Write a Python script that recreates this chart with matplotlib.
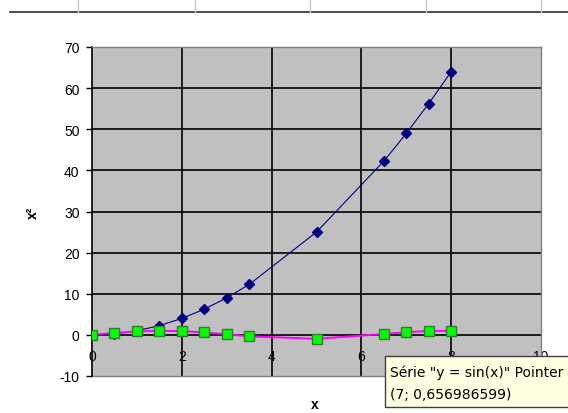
import matplotlib
matplotlib.use("Agg")
import matplotlib.pyplot as plt
from matplotlib.lines import Line2D
from matplotlib.patches import Rectangle

plt.rcParams['font.family'] = ['Liberation Sans', 'DejaVu Sans']

x_vals = [0, 0.5, 1, 1.5, 2, 2.5, 3, 3.5, 5, 6.5, 7, 7.5, 8]
y_square = [0, 0.25, 1, 2.25, 4, 6.25, 9, 12.25, 25, 42.25, 49, 56.25, 64]
y_sin = [0, 0.479, 0.841, 0.997, 0.909, 0.598, 0.141, -0.351, -0.959, 0.215, 0.657, 0.938, 0.989]
x_ticks = [0, 2, 4, 6, 8, 10]
y_ticks = [-10, 0, 10, 20, 30, 40, 50, 60, 70]
tooltip_lines = ['Série "y = sin(x)" Pointer', '(7; 0,656986599)']

W, H = 568, 414
fig = plt.figure(figsize=(W / 100, H / 100), dpi=100)
fig.patch.set_facecolor('white')

L, R, T, B = 92, 541, 48, 377
ax = fig.add_axes([L / W, 1 - B / H, (R - L) / W, (B - T) / H])
ax.set_facecolor('#c0c0c0')
ax.set_xlim(0, 10)
ax.set_ylim(-10, 70)

# gridlines
for v in [10, 20, 30, 40, 50, 60]:
    ax.axhline(v, color='black', lw=1.2, zorder=1)
for v in [2, 4, 6, 8]:
    ax.axvline(v, color='black', lw=1.2, zorder=1)

ax.plot(x_vals, y_square, color='#000080', lw=0.8, marker='D', ms=5,
        mfc='#000080', mec='#000080', zorder=3)
ax.plot(x_vals, y_sin, color='#ff00ff', lw=1.4, marker='s', ms=7.5,
        mfc='#00ff00', mec='#2e7d2e', mew=1.0, zorder=4)

for s in ['top', 'right']:
    ax.spines[s].set_color('#808080')
    ax.spines[s].set_linewidth(1.0)
ax.spines['left'].set_color('black')
ax.spines['left'].set_linewidth(1.2)
ax.spines['bottom'].set_position(('data', 0))
ax.spines['bottom'].set_color('black')
ax.spines['bottom'].set_linewidth(1.2)
ax.spines['bottom'].set_zorder(2)
ax.plot([0, 10], [-10, -10], color='#808080', lw=1.0, clip_on=False, zorder=2)

ax.set_xticks(x_ticks)
ax.set_xticklabels([str(v) for v in x_ticks])
ax.set_yticks(y_ticks)
ax.set_yticklabels([str(v) for v in y_ticks])
ax.tick_params(axis='y', direction='out', length=4, width=1, pad=5,
               labelsize=10, colors='black')
ax.tick_params(axis='x', direction='inout', length=0, width=1, pad=10,
               labelsize=10, colors='black')

ax.set_ylabel('x²', fontsize=10, fontweight='bold')
ax.yaxis.set_label_coords((40 - L) / (R - L), 0.5)
fig.text(315 / W, 1 - 405 / H, 'x', fontsize=10, fontweight='bold',
         ha='center', va='center')

# spreadsheet lines at top
fig.add_artist(Line2D([10 / W, 1], [1 - 13 / H, 1 - 13 / H], color='#303030', lw=1.2))
for xp in [78, 195, 310, 426, 541]:
    fig.add_artist(Line2D([xp / W, xp / W], [1 - 13 / H, 1], color='#c8c8c8', lw=1.0))

# tooltip
tx0, ty0, tx1, ty1 = 385, 357, 570, 408
fig.add_artist(Rectangle((tx0 / W, 1 - ty1 / H), (tx1 - tx0) / W, (ty1 - ty0) / H,
                         transform=fig.transFigure, fc='#ffffe1', ec='#404040', lw=1.0,
                         zorder=10))
fig.text(390 / W, 1 - 373 / H, tooltip_lines[0], fontsize=10, ha='left', va='center',
         zorder=11, family=['DejaVu Sans'])
fig.text(390 / W, 1 - 395 / H, tooltip_lines[1], fontsize=10, ha='left', va='center',
         zorder=11, family=['DejaVu Sans'])

fig.savefig('out.png', dpi=100)
